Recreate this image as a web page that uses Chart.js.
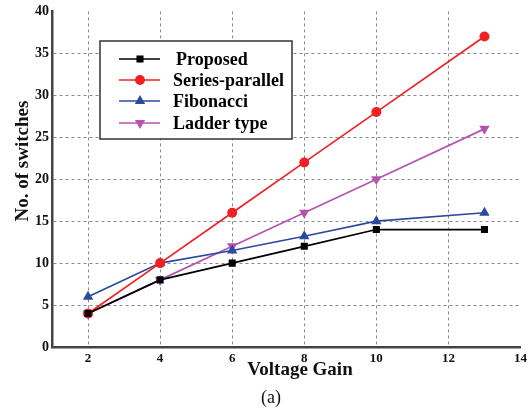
<!DOCTYPE html>
<html><head><meta charset="utf-8">
<script src="https://cdn.jsdelivr.net/npm/chart.js@4/dist/chart.umd.min.js"></script>
<style>html,body{margin:0;padding:0;background:#fff}#wrap{width:531px;height:413px}</style>
</head><body><div id="wrap"><canvas id="c" width="531" height="413"></canvas></div>
<script>
const gains = [2, 4, 6, 8, 10, 13];
const proposed = [4, 8, 10, 12, 14, 14];
const seriesParallel = [4, 10, 16, 22, 28, 37];
const fibonacci = [6, 10, 11.5, 13.2, 15, 16];
const ladder = [4, 8, 12, 16, 20, 26];
const xTicks = [2, 4, 6, 8, 10, 12, 14];
const seriesNames = ['Proposed', 'Series-parallel', 'Fibonacci', 'Ladder type'];
const xTitle = 'Voltage Gain';
const yTitle = 'No. of switches';
const caption = '(a)';
const FONT = '"Liberation Serif", "Times New Roman", serif';

const pts = arr => arr.map((v, i) => ({x: gains[i], y: v}));
const styles = [
  {color: '#000000', pointStyle: 'rect', radius: 5, rotation: 0},
  {color: '#ee2222', pointStyle: 'circle', radius: 5, rotation: 0},
  {color: '#2a4a9e', pointStyle: 'triangle', radius: 6, rotation: 0},
  {color: '#b554b0', pointStyle: 'triangle', radius: 6, rotation: 180}
];
const values = [proposed, seriesParallel, fibonacci, ladder];
const datasets = values.map((v, i) => ({
  label: seriesNames[i], data: pts(v),
  borderColor: styles[i].color, backgroundColor: styles[i].color,
  borderWidth: 1.7, pointStyle: styles[i].pointStyle, pointRadius: styles[i].radius,
  pointRotation: styles[i].rotation, pointBorderWidth: 0, tension: 0
}));
const textPlugin = {
  id: 'customText',
  afterDraw(chart) {
    const ctx = chart.ctx;
    ctx.save();
    ctx.fillStyle = '#fff';
    ctx.fillRect(100, 41, 192, 98);
    ctx.strokeStyle = '#333';
    ctx.lineWidth = 1.5;
    ctx.strokeRect(100, 41, 192, 98);
    const ys = [59, 80, 101, 123];
    ctx.font = 'bold 18px ' + FONT;
    ctx.textBaseline = 'middle';
    seriesNames.forEach((n, i) => {
      const s = styles[i];
      ctx.strokeStyle = s.color; ctx.lineWidth = 1.7;
      ctx.beginPath(); ctx.moveTo(119, ys[i]); ctx.lineTo(160, ys[i]); ctx.stroke();
      ctx.fillStyle = s.color;
      Chart.helpers.drawPoint(ctx, {pointStyle: s.pointStyle, radius: s.radius, rotation: s.rotation, borderWidth: 0}, 140, ys[i]);
      ctx.fillStyle = '#000';
      ctx.fillText(n, i === 0 ? 176 : 173, ys[i] + 1);
    });
    ctx.fillStyle = '#111';
    ctx.textAlign = 'center';
    ctx.font = 'bold 19px ' + FONT;
    ctx.fillText(xTitle, 300, 370);
    ctx.save();
    ctx.translate(23, 161);
    ctx.rotate(-Math.PI / 2);
    ctx.fillText(yTitle, 0, 0);
    ctx.restore();
    ctx.font = '18px ' + FONT;
    ctx.fillText(caption, 271, 398);
    ctx.restore();
  }
};

new Chart(document.getElementById('c'), {
  type: 'line',
  data: {datasets},
  options: {
    responsive: false, animation: false,
    layout: {padding: {top: 3, right: 5, left: 0, bottom: 0}},
    plugins: {legend: {display: false}, tooltip: {enabled: false}},
    scales: {
      x: {
        type: 'linear', min: 1, max: 14,
        afterBuildTicks: s => { s.ticks = xTicks.map(v => ({value: v})); },
        afterFit: s => { s.height = 66; },
        grid: {color: c => (c.tick && c.tick.value === 14) ? 'rgba(0,0,0,0)' : '#8a8a8a', lineWidth: 1, drawTicks: false, tickLength: 0},
        border: {display: true, color: '#444', width: 2.5, dash: [3, 3]},
        ticks: {color: '#111', font: {family: FONT, size: 13, weight: 'bold'}, padding: 4, maxRotation: 0, autoSkip: false}
      },
      y: {
        min: 0, max: 40,
        afterFit: s => { s.width = 52; },
        grid: {color: c => (c.tick && (c.tick.value === 40 || c.tick.value === 0)) ? 'rgba(0,0,0,0)' : '#8a8a8a', lineWidth: 1, drawTicks: false},
        border: {display: true, color: '#444', width: 2.5, dash: [3, 3]},
        ticks: {stepSize: 5, color: '#111', font: {family: FONT, size: 14, weight: 'bold'}, padding: 3}
      }
    }
  },
  plugins: [textPlugin]
});
</script></body></html>
